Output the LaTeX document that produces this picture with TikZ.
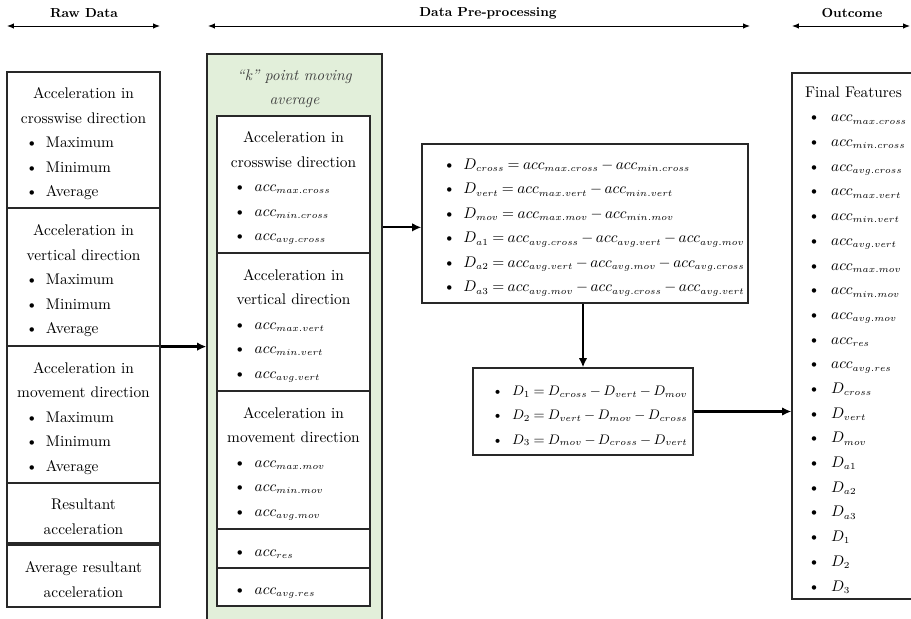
\documentclass[tikz,border=0pt]{standalone}
\usepackage{amsmath,amssymb}
\usepackage{tikz}
\usetikzlibrary{arrows.meta}
\definecolor{lightgreen}{RGB}{226,239,218}
\definecolor{edge}{RGB}{40,40,40}
\DeclareMathSizes{10}{10}{6.3}{5}
\DeclareMathSizes{9}{9}{5.8}{4.5}
\newlength{\blw}\newlength{\blg}
\newcommand{\bl}[1]{\makebox[\blw][l]{\makebox[\blg][l]{\textbullet}#1}}
\newcommand{\tg}{\rule{0pt}{12pt}}

\begin{document}
\begin{tikzpicture}[x=0.65pt, y=-0.65pt,
    every node/.style={font=\fontsize{10}{15.9}\selectfont},
    box/.style 2 args={draw=edge, line width=0.8pt, fill=white, inner sep=0pt, align=center,
      minimum width={#1*0.65pt}, minimum height={#2*0.65pt}},
    hdr/.style={font=\fontsize{8.5}{10}\selectfont\bfseries},
    span/.style={{Latex[length=4.5pt,width=3.5pt]}-{Latex[length=4.5pt,width=3.5pt]}, line width=0.6pt},
    flow/.style={-{Latex[length=6pt,width=5.5pt]}, line width=1.5pt},
    rawcol/.style={execute at begin node={\setlength{\blw}{74.8pt}\setlength{\blg}{13pt}}},
    midcol/.style={execute at begin node={\setlength{\blw}{77.4pt}\setlength{\blg}{13.5pt}}},
    diffcol/.style={execute at begin node={\setlength{\blw}{184pt}\setlength{\blg}{13pt}\thickmuskip=4mu plus 2mu\medmuskip=3mu plus 1mu}},
    dcol/.style={font=\fontsize{9}{15.9}\selectfont, execute at begin node={\setlength{\blw}{118pt}\setlength{\blg}{13pt}\thickmuskip=4mu plus 2mu\medmuskip=3mu plus 1mu}},
    fincol/.style={font=\fontsize{10}{16.05}\selectfont, execute at begin node={\setlength{\blw}{59pt}\setlength{\blg}{15pt}}}]
  \useasboundingbox (0,0) rectangle (911,619);
  % stage headers
  \coordinate (rawL) at (7,26); \coordinate (rawR) at (160,26);
  \coordinate (preL) at (208,26); \coordinate (preR) at (750,26);
  \coordinate (outL) at (792,26); \coordinate (outR) at (910,26);
  \node[hdr] (rawT) at (84,13) {Raw Data};
  \node[hdr] (preT) at (488,13) {Data Pre-processing};
  \node[hdr] (outT) at (852,13) {Outcome};
  \draw[span] (rawL)--(rawR); \draw[span] (preL)--(preR); \draw[span] (outL)--(outR);
  % raw data
  \node[box={153}{136}, rawcol] (raw1) at (83.5,140) {\tg Acceleration in\\crosswise direction\\\bl{Maximum}\\\bl{Minimum}\\\bl{Average}};
  \node[box={153}{138}, rawcol] (raw2) at (83.5,277) {\tg Acceleration in\\vertical direction\\\bl{Maximum}\\\bl{Minimum}\\\bl{Average}};
  \node[box={153}{137}, rawcol] (raw3) at (83.5,414.5) {\tg Acceleration in\\movement direction\\\bl{Maximum}\\\bl{Minimum}\\\bl{Average}};
  \node[box={153}{60}, rawcol] (raw4) at (83.5,513) {\tg Resultant\\acceleration};
  \node[box={153}{62}, rawcol] (raw5) at (83.5,576) {\tg Average resultant\\acceleration};
  % moving average
  \node[box={175}{576}, fill=lightgreen] (green) at (294.5,342) {};
  \node[font=\fontsize{10}{15.9}\selectfont\itshape, align=center, text=black!75] (kavg) at (294.5,89) {“k” point moving\\average};
  \node[box={153}{137}, midcol] (mid1) at (293.5,184.5) {\tg Acceleration in\\crosswise direction\\\bl{$acc_{max.cross}$}\\\bl{$acc_{min.cross}$}\\\bl{$acc_{avg.cross}$}};
  \node[box={153}{138}, midcol] (mid2) at (293.5,322) {\tg Acceleration in\\vertical direction\\\bl{$acc_{max.vert}$}\\\bl{$acc_{min.vert}$}\\\bl{$acc_{avg.vert}$}};
  \node[box={153}{138}, midcol] (mid3) at (293.5,460) {\tg Acceleration in\\movement direction\\\bl{$acc_{max.mov}$}\\\bl{$acc_{min.mov}$}\\\bl{$acc_{avg.mov}$}};
  \node[box={153}{39}, midcol] (mid4) at (293.5,548.5) {\tg\bl{$acc_{res}$}};
  \node[box={153}{38}, midcol] (mid5) at (293.5,587) {\tg\bl{$acc_{avg.res}$}};
  % differences
  \node[box={326}{159}, diffcol] (diff) at (585,223.5) {%
    \tg\bl{$D_{cross} = acc_{max.cross} - acc_{min.cross}$}\\
    \bl{$D_{vert} = acc_{max.vert} - acc_{min.vert}$}\\
    \bl{$D_{mov} = acc_{max.mov} - acc_{min.mov}$}\\
    \bl{$D_{a1} = acc_{avg.cross} - acc_{avg.vert} - acc_{avg.mov}$}\\
    \bl{$D_{a2} = acc_{avg.vert} - acc_{avg.mov} - acc_{avg.cross}$}\\
    \bl{$D_{a3} = acc_{avg.mov} - acc_{avg.cross} - acc_{avg.vert}$}};
  \node[box={220}{87}, dcol] (cross) at (583,411.5) {%
    \tg\bl{$D_1 = D_{cross} - D_{vert} - D_{mov}$}\\
    \bl{$D_2 = D_{vert} - D_{mov} - D_{cross}$}\\
    \bl{$D_3 = D_{mov} - D_{cross} - D_{vert}$}};
  % outcome
  \node[box={123}{526}, fincol] (final) at (853.5,336) {\tg Final Features\\
    \bl{$acc_{max.cross}$}\\\bl{$acc_{min.cross}$}\\\bl{$acc_{avg.cross}$}\\
    \bl{$acc_{max.vert}$}\\\bl{$acc_{min.vert}$}\\\bl{$acc_{avg.vert}$}\\
    \bl{$acc_{max.mov}$}\\\bl{$acc_{min.mov}$}\\\bl{$acc_{avg.mov}$}\\
    \bl{$acc_{res}$}\\\bl{$acc_{avg.res}$}\\
    \bl{$D_{cross}$}\\\bl{$D_{vert}$}\\\bl{$D_{mov}$}\\
    \bl{$D_{a1}$}\\\bl{$D_{a2}$}\\\bl{$D_{a3}$}\\
    \bl{$D_1$}\\\bl{$D_2$}\\\bl{$D_3$}};
  % flow
  \coordinate (din) at ([yshift=-2.5pt]diff.west);
  \draw[flow] (raw2.south east) -- (raw2.south east -| green.west);
  \draw[flow] (green.east |- din) -- (din);
  \draw[flow] (diff.south -| cross.north) -- (cross.north);
  \draw[flow] (cross.east) -- (cross.east -| final.west);
\end{tikzpicture}
\end{document}
